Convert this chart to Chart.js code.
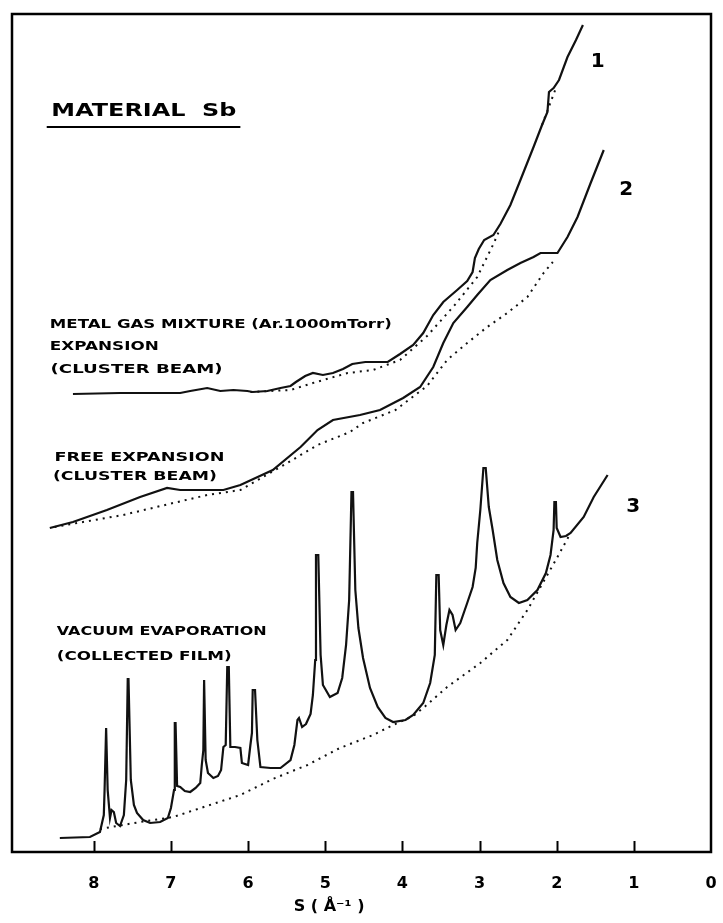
<!DOCTYPE html>
<html>
<head>
<meta charset="utf-8">
<script src="https://cdn.jsdelivr.net/npm/chart.js@4/dist/chart.umd.min.js"></script>
<style>
  html, body { margin: 0; padding: 0; background: #fff; }
</style>
</head>
<body>
<canvas id="c" width="723" height="923"></canvas>
<script>
// Scattering vector s (1/Å) and intensity (arbitrary units) for Sb.
const sTickValues = [8, 7, 6, 5, 4, 3, 2, 1, 0];

// 1: metal-gas mixture expansion (cluster beam)
const mixS = [8.27,7.66,6.88,6.75,6.53,6.36,6.19,6.01,5.94,5.75,5.58,5.45,5.38,5.26,5.16,5.03,4.90,4.77,4.65,4.48,4.32,4.19,4.03,3.86,3.73,3.60,3.47,3.29,3.16,3.09,3.06,3.01,2.94,2.82,2.73,2.60,2.47,2.30,2.19,2.12,2.10,2.04,1.97,1.86,1.75,1.66];
const mixI = [45.8,45.9,45.9,46.1,46.4,46.1,46.2,46.1,46.0,46.1,46.4,46.6,47.0,47.6,47.9,47.7,47.9,48.3,48.8,49.0,49.0,49.0,49.8,50.7,51.9,53.7,55.0,56.2,57.1,58.0,59.4,60.3,61.2,61.7,62.8,64.7,67.2,70.5,72.7,74.0,76.0,76.4,77.2,79.5,81.2,82.7];
const mixBaseS = [5.97,5.45,5.16,4.71,4.38,4.03,3.68,3.31,3.03,2.82,2.73];
const mixBaseI = [46.0,46.2,46.9,47.9,48.2,49.2,51.6,54.8,57.5,60.8,62.4];
const mixBaseTopS = [2.19,2.00];
const mixBaseTopI = [72.7,76.6];

// 2: free expansion (cluster beam)
const freeS = [8.57,8.27,7.83,7.40,7.05,6.88,6.32,6.10,5.68,5.32,5.10,4.90,4.55,4.29,3.99,3.77,3.60,3.47,3.34,3.16,3.03,2.86,2.64,2.47,2.30,2.21,1.99,1.86,1.73,1.56,1.39];
const freeI = [32.4,33.0,34.2,35.5,36.4,36.2,36.2,36.7,38.2,40.5,42.2,43.2,43.7,44.2,45.4,46.5,48.5,50.9,52.9,54.5,55.7,57.2,58.2,58.9,59.5,59.9,59.9,61.5,63.5,66.9,70.2];
const freeBaseS = [8.51,7.62,6.97,6.53,6.10,5.58,5.10,4.68,4.51,4.09,3.68,3.42,3.16,2.90,2.64,2.38,2.17,2.05];
const freeBaseI = [32.5,33.7,34.9,35.7,36.2,38.5,40.7,42.0,42.9,44.2,46.6,49.2,50.9,52.5,53.9,55.5,57.9,59.0];

// 3: vacuum evaporation (collected film)
const filmS = [8.44,8.05,7.92,7.87,7.86,7.84,7.83,7.82,7.79,7.77,
  7.74,7.71,7.66,7.61,7.58,7.56,7.55,7.52,7.48,7.44,
  7.36,7.27,7.14,7.04,7.00,6.96,6.95,6.94,6.92,6.88,
  6.82,6.75,6.68,6.62,6.60,6.58,6.57,6.56,6.55,6.52,
  6.45,6.39,6.35,6.32,6.29,6.27,6.25,6.23,6.17,6.10,
  6.08,6.00,5.97,5.95,5.94,5.91,5.88,5.84,5.71,5.58,
  5.45,5.40,5.36,5.34,5.30,5.25,5.19,5.16,5.13,5.12,
  5.09,5.06,5.03,4.94,4.84,4.78,4.73,4.69,4.66,4.64,
  4.61,4.57,4.51,4.42,4.32,4.22,4.12,3.96,3.86,3.73,
  3.64,3.58,3.56,3.53,3.51,3.47,3.43,3.39,3.35,3.31,
  3.25,3.16,3.09,3.05,3.03,2.99,2.95,2.92,2.88,2.83,
  2.77,2.69,2.60,2.49,2.38,2.25,2.14,2.08,2.04,2.03,
  2.01,2.00,1.95,1.88,1.82,1.65,1.52,1.34];
const filmI = [1.4,1.5,2.0,3.7,6.2,12.4,12.4,6.2,3.4,4.2,
  4.0,2.9,2.6,3.7,7.2,17.3,17.3,7.2,4.7,3.9,
  3.2,2.9,3.0,3.4,4.4,6.2,12.9,12.9,6.6,6.5,
  6.1,6.0,6.4,6.9,8.7,10.2,17.2,17.2,9.2,7.9,
  7.4,7.6,8.2,10.5,10.7,18.5,18.5,10.5,10.5,10.4,
  8.9,8.7,10.7,11.9,16.2,16.2,11.2,8.5,8.4,8.4,
  9.2,10.7,13.2,13.4,12.5,12.8,13.8,15.7,19.2,29.7,
  29.7,19.7,16.7,15.5,15.9,17.4,20.7,25.2,36.0,36.0,
  26.2,22.4,19.4,16.4,14.5,13.4,13.0,13.2,13.7,14.9,
  16.9,19.7,27.7,27.7,22.2,20.7,22.7,24.2,23.7,22.2,
  22.9,24.9,26.5,28.4,30.9,34.2,38.4,38.4,34.5,32.2,
  29.2,26.9,25.5,24.9,25.2,26.2,27.9,29.7,32.2,35.0,
  35.0,32.4,31.5,31.6,31.9,33.5,35.5,37.7];
const filmBaseS = [7.92,7.40,6.97,6.10,5.68,5.23,4.81,4.38,4.12,3.86,3.70,3.42,2.99,2.64,2.38,2.21,1.99,1.82];
const filmBaseI = [2.3,3.0,3.5,5.7,7.3,8.7,10.4,11.7,12.7,13.6,14.6,16.5,18.9,21.2,24.2,26.5,29.5,31.9];

const toPoints = (xs, ys) => xs.map((v, k) => ({ x: v, y: ys[k] }));

const ink = '#111';
const solid = (data) => ({
  data, borderColor: ink, borderWidth: 2.2, pointRadius: 0, tension: 0, fill: false
});
const dotted = (data) => ({
  data, borderColor: ink, borderWidth: 2, borderDash: [2, 5], pointRadius: 0, tension: 0, fill: false
});

// Figure annotations, placed in data coordinates (s, intensity).
const FONT = '"DejaVu Sans", "Liberation Sans", sans-serif';
const notes = [
  { text: 'MATERIAL  Sb', s: 8.55, i: 74.0, size: 17, w: 185 },
  { text: '1', s: 1.56, i: 79.0, size: 20 },
  { text: '2', s: 1.19, i: 66.2, size: 20 },
  { text: '3', s: 1.10, i: 34.5, size: 20 },
  { text: 'METAL GAS MIXTURE (Ar.1000mTorr)', s: 8.57, i: 52.7, size: 13, w: 342 },
  { text: 'EXPANSION', s: 8.57, i: 50.5, size: 13, w: 109 },
  { text: '(CLUSTER BEAM)', s: 8.56, i: 48.2, size: 13, w: 172 },
  { text: 'FREE EXPANSION', s: 8.51, i: 39.4, size: 13, w: 170 },
  { text: '(CLUSTER BEAM)', s: 8.53, i: 37.5, size: 13, w: 164 },
  { text: 'VACUUM EVAPORATION', s: 8.48, i: 22.0, size: 13, w: 210 },
  { text: '(COLLECTED FILM)', s: 8.48, i: 19.5, size: 13, w: 175 }
];
const titleRule = { s0: 8.61, s1: 6.10, i: 72.5 };
const axisTitle = { text: 'S ( Å⁻¹ )', s: 4.95, below: 55, size: 16 };

const framePlugin = {
  id: 'framePlugin',
  afterDraw(chart) {
    const { ctx, chartArea: a } = chart;
    const x = chart.scales.x, y = chart.scales.y;
    ctx.save();
    ctx.strokeStyle = '#000';
    ctx.lineWidth = 2.5;
    ctx.strokeRect(a.left, a.top, a.right - a.left, a.bottom - a.top);
    // inward tick marks on the bottom edge
    ctx.lineWidth = 2;
    sTickValues.filter(v => v > 0).forEach(v => {
      const px = Math.round(x.getPixelForValue(v)) + 0.5;
      ctx.beginPath();
      ctx.moveTo(px, a.bottom);
      ctx.lineTo(px, a.bottom - 11);
      ctx.stroke();
    });
    // text notes
    ctx.fillStyle = '#000';
    ctx.textBaseline = 'middle';
    ctx.textAlign = 'left';
    notes.forEach(n => {
      ctx.save();
      ctx.font = 'bold ' + n.size + 'px ' + FONT;
      const px = x.getPixelForValue(n.s), py = y.getPixelForValue(n.i);
      ctx.translate(px, py);
      if (n.w) {
        const m = ctx.measureText(n.text).width;
        ctx.scale(n.w / m, 1);
      }
      ctx.fillText(n.text, 0, 0);
      ctx.restore();
    });
    // underline of the material heading
    ctx.lineWidth = 2;
    const uy = y.getPixelForValue(titleRule.i);
    ctx.beginPath();
    ctx.moveTo(x.getPixelForValue(titleRule.s0), uy);
    ctx.lineTo(x.getPixelForValue(titleRule.s1), uy);
    ctx.stroke();
    // axis title below the tick labels
    ctx.font = 'bold ' + axisTitle.size + 'px ' + FONT;
    ctx.textAlign = 'center';
    ctx.fillText(axisTitle.text, x.getPixelForValue(axisTitle.s), a.bottom + axisTitle.below);
    ctx.restore();
  }
};

new Chart(document.getElementById('c'), {
  type: 'line',
  data: {
    datasets: [
      solid(toPoints(mixS, mixI)),
      dotted(toPoints(mixBaseS, mixBaseI)),
      dotted(toPoints(mixBaseTopS, mixBaseTopI)),
      solid(toPoints(freeS, freeI)),
      dotted(toPoints(freeBaseS, freeBaseI)),
      solid(toPoints(filmS, filmI)),
      dotted(toPoints(filmBaseS, filmBaseI))
    ]
  },
  options: {
    responsive: false,
    devicePixelRatio: 1,
    animation: false,
    layout: { padding: { left: 12, right: 12, top: 14, bottom: 6 } },
    plugins: { legend: { display: false }, tooltip: { enabled: false } },
    scales: {
      x: {
        type: 'linear',
        reverse: true,
        min: 0,
        max: 9.06,
        grid: { display: false, drawTicks: false },
        border: { display: false },
        afterBuildTicks: (scale) => { scale.ticks = sTickValues.map(v => ({ value: v })); },
        afterFit: (scale) => {
          scale.paddingLeft = 0;
          scale.paddingRight = 0;
          scale.height = 65;
        },
        ticks: {
          color: '#000',
          autoSkip: false,
          maxRotation: 0,
          padding: 22,
          font: { family: FONT, size: 16, weight: 'bold' }
        },
        title: { display: false }
      },
      y: { display: false, min: 0, max: 83.8 }
    }
  },
  plugins: [framePlugin]
});
</script>
</body>
</html>
